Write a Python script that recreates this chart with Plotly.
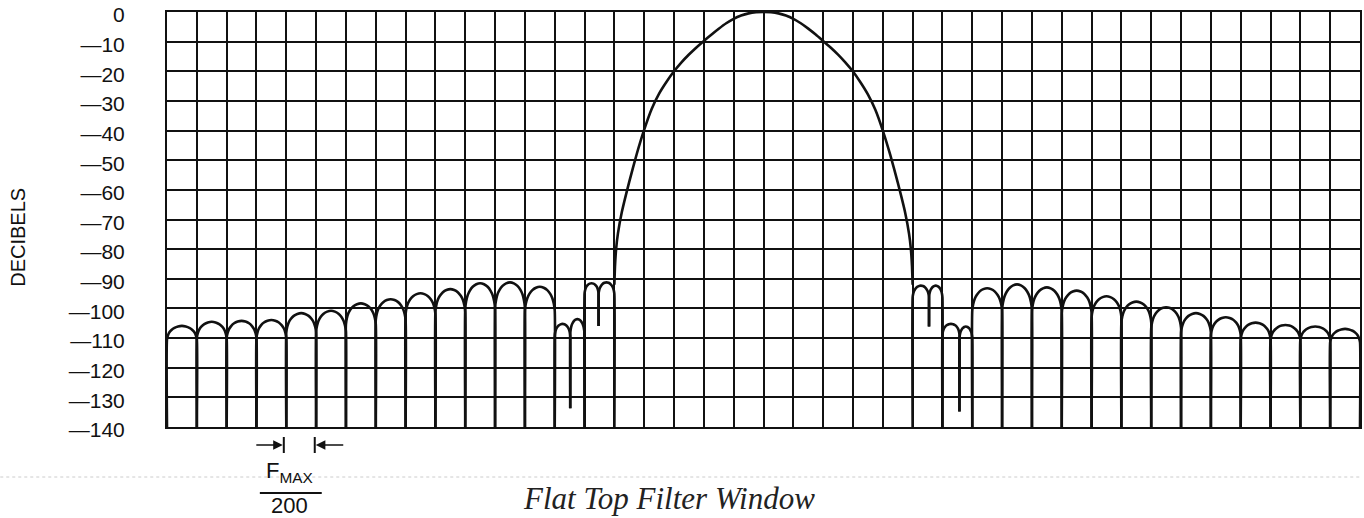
import plotly.graph_objects as go

# ---------------- data ----------------
# frequency axis in grid columns (0..40), amplitude in dB
Y_TICKS = [0, -10, -20, -30, -40, -50, -60, -70, -80, -90, -100, -110, -120, -130, -140]
Y_TICK_TEXT = ["0", "—10", "—20", "—30", "—40", "—50", "—60", "—70", "—80", "—90",
               "—100", "—110", "—120", "—130", "—140"]

# main lobe (center at column 20)
MAIN_X = [15.0, 15.02, 15.06, 15.12, 15.25, 15.5, 15.75, 16.0, 16.25, 16.5, 16.75, 17.0,
          17.25, 17.5, 17.75, 18.0, 18.25, 18.5, 18.75, 19.0, 19.25, 19.5, 19.75, 20.0,
          20.25, 20.5, 20.75, 21.0, 21.25, 21.5, 21.75, 22.0, 22.25, 22.5, 22.75, 23.0,
          23.25, 23.5, 23.75, 24.0, 24.25, 24.5, 24.75, 24.88, 24.94, 24.98, 25.0]
MAIN_DB = [-92, -86, -79.8, -74.7, -67.5, -57.2, -47.9, -39.7, -32.7, -27.5, -23.5, -20.0,
           -17.0, -14.35, -11.95, -9.75, -7.65, -5.65, -3.8, -2.3, -1.2, -0.47, -0.1, 0,
           -0.1, -0.47, -1.2, -2.3, -3.8, -5.6, -7.6, -9.8, -12.0, -14.4, -17.1, -20.1,
           -23.7, -27.8, -33.0, -40.0, -48.2, -57.5, -67.7, -74.8, -79.8, -86, -92]

# left side lobes: null positions, null depths, lobe peaks, arc drop (peak to where arc meets grid)
EDGES_L = [0, 1, 2, 3, 4, 5, 6, 7, 8, 9, 10, 11, 12, 13, 13.52, 14, 14.47, 15]
NULLS_L = [-140, -140, -140, -140, -140, -140, -140, -140, -140, -140, -140, -140, -140,
           -140, -133.7, -140, -105.9, -140]
PEAKS_L = [-105.9, -104.5, -104.2, -103.9, -101.6, -100.8, -98.3, -96.9, -94.9, -93.5,
           -91.5, -91.2, -92.7, -105.2, -103.6, -91.5, -91.2]
DROP_L = [4.5, 5.5, 5.8, 6.0, 6.5, 7.0, 7.0, 7.0, 7.0, 7.5, 8.5, 8.5, 8.0, 4.0, 5.0, 3.5, 4.0]

# right side lobes
EDGES_R = [25, 25.55, 26, 26.57, 27, 28, 29, 30, 31, 32, 33, 34, 35, 36, 37, 38, 39, 40]
NULLS_R = [-140, -106.1, -140, -134.8, -140, -140, -140, -140, -140, -140, -140, -140,
           -140, -140, -140, -140, -140, -140]
PEAKS_R = [-92.3, -92.3, -105.2, -106.1, -93.2, -91.9, -92.9, -94.0, -95.9, -97.7, -99.6,
           -101.6, -103.0, -104.8, -105.6, -106.1, -106.9]
DROP_R = [4.0, 4.0, 3.5, 4.0, 7.5, 8.5, 8.0, 7.5, 7.0, 7.0, 7.0, 6.5, 6.0, 5.5, 5.0, 4.5, 4.5]

# rounded arc shape of one side lobe: position across lobe -> fraction of the drop
LOBE_U = [0.0, 0.03, 0.08, 0.15, 0.25, 0.37, 0.5, 0.63, 0.75, 0.85, 0.92, 0.97, 1.0]
LOBE_F = [1.0, 0.72, 0.48, 0.30, 0.14, 0.04, 0.0, 0.04, 0.14, 0.30, 0.48, 0.72, 1.0]


def lobes(edges, nulls, peaks, drops):
    xs, ys = [], []
    for i, pk in enumerate(peaks):
        a, b = edges[i], edges[i + 1]
        xs.append(a)
        ys.append(nulls[i])
        for u, f in zip(LOBE_U, LOBE_F):
            xs.append(a + u * (b - a))
            ys.append(pk - drops[i] * f)
        xs.append(b)
        ys.append(nulls[i + 1])
        xs.append(None)
        ys.append(None)
    return xs, ys


lx, ly = lobes(EDGES_L, NULLS_L, PEAKS_L, DROP_L)
rx, ry = lobes(EDGES_R, NULLS_R, PEAKS_R, DROP_R)

# ---------------- figure ----------------
W, H = 1364, 518
L, R, T, B = 167, 2, 12, 91
PW, PH = W - L - R, H - T - B


def xp(px):
    return (px - L) / PW


def yp(py):
    return (H - B - py) / PH


SANS = "Liberation Sans, Arial, sans-serif"
INK = "#111111"

fig = go.Figure()
line_style = dict(color=INK, width=2.6)
fig.add_trace(go.Scatter(x=lx, y=ly, mode="lines", line=dict(shape="spline", smoothing=0.6, **line_style),
                         connectgaps=False, hoverinfo="skip"))
fig.add_trace(go.Scatter(x=rx, y=ry, mode="lines", line=dict(shape="spline", smoothing=0.6, **line_style),
                         connectgaps=False, hoverinfo="skip"))
fig.add_trace(go.Scatter(x=MAIN_X, y=MAIN_DB, mode="lines",
                         line=dict(shape="spline", smoothing=0.5, **line_style), hoverinfo="skip"))

grid = dict(showgrid=True, gridcolor=INK, gridwidth=2, showline=True, linecolor=INK,
            linewidth=2, mirror=True, zeroline=False, ticks="", fixedrange=True)

fig.update_xaxes(range=[0, 40], tick0=0, dtick=1, showticklabels=False, **grid)
fig.update_yaxes(range=[-140, 0], tickvals=Y_TICKS, ticktext=Y_TICK_TEXT, ticklabelstandoff=36,
                 ticklabelshift=3,
                 tickfont=dict(family=SANS, size=21, color=INK), **grid)

annots = []
# y axis title
annots.append(dict(x=xp(17.5), y=yp(237), xref="paper", yref="paper", text="DECIBELS",
                   textangle=-90, showarrow=False, xanchor="center", yanchor="middle",
                   font=dict(family=SANS, size=20, color=INK)))
# arrows marking one bin width
annots.append(dict(x=xp(283), y=yp(445), ax=-28, ay=0, xref="paper", yref="paper",
                   text="", showarrow=True, arrowhead=2, arrowsize=1.2,
                   arrowwidth=1.6, arrowcolor=INK))
annots.append(dict(x=xp(316), y=yp(445), ax=29, ay=0, xref="paper", yref="paper",
                   text="", showarrow=True, arrowhead=2, arrowsize=1.2,
                   arrowwidth=1.6, arrowcolor=INK))
annots.append(dict(x=xp(290), y=yp(472), xref="paper", yref="paper", text="F<sub>MAX</sub>",
                   showarrow=False, xanchor="center", yanchor="middle",
                   font=dict(family=SANS, size=22, color=INK)))
annots.append(dict(x=xp(290), y=yp(506), xref="paper", yref="paper", text="200",
                   showarrow=False, xanchor="center", yanchor="middle",
                   font=dict(family=SANS, size=22, color=INK)))
annots.append(dict(x=xp(670), y=yp(498), xref="paper", yref="paper", text="<i>Flat Top Filter Window</i>",
                   showarrow=False, xanchor="center", yanchor="middle",
                   font=dict(family="Liberation Serif, Times New Roman, serif", size=31, color="#222222")))

shapes = []
# ticks at arrow heads
shapes.append(dict(type="line", xref="paper", yref="paper", x0=xp(284), x1=xp(284), y0=yp(437), y1=yp(453),
                   line=dict(color=INK, width=2)))
shapes.append(dict(type="line", xref="paper", yref="paper", x0=xp(315), x1=xp(315), y0=yp(437), y1=yp(453),
                   line=dict(color=INK, width=2)))
# fraction bar
shapes.append(dict(type="line", xref="paper", yref="paper", x0=xp(260), x1=xp(322), y0=yp(493), y1=yp(493),
                   line=dict(color=INK, width=2)))
# faint scan line
shapes.append(dict(type="line", xref="paper", yref="paper", x0=xp(0), x1=xp(1364), y0=yp(477), y1=yp(477),
                   line=dict(color="#cccccc", width=1, dash="dot"), layer="below"))

fig.update_layout(width=W, height=H, margin=dict(l=L, r=R, t=T, b=B), showlegend=False,
                  plot_bgcolor="white", paper_bgcolor="white", annotations=annots, shapes=shapes)

fig.write_html("out.html", config={"displayModeBar": False, "responsive": False},
               post_script="document.body.style.margin='0';document.body.style.padding='0';"
                           "document.documentElement.style.overflow='hidden';")
